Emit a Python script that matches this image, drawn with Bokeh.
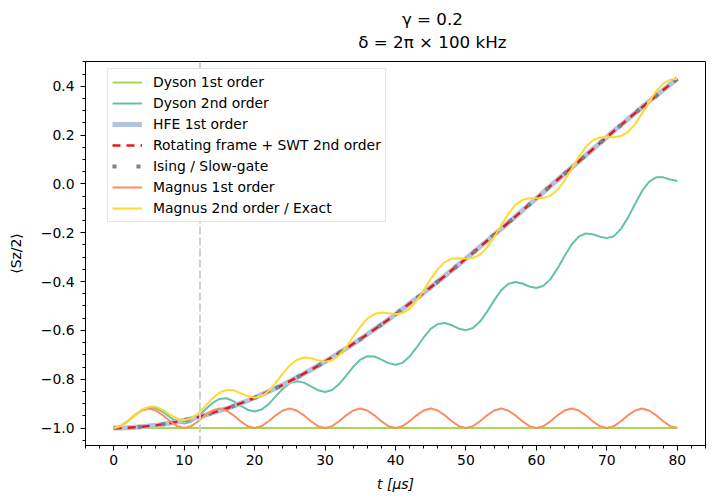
from bokeh.plotting import figure
from bokeh.layouts import column
from bokeh.models import Range1d, SingleIntervalTicker, CustomJSTickFormatter, Span
from bokeh.core.properties import value
from bokeh.embed import file_html
from bokeh.resources import INLINE

# ---- data ----
t_us = list(range(81))

dyson_1st = [-1.0] * 81

dyson_2nd = [
    -1.000, -0.992, -0.973, -0.947, -0.925, -0.915, -0.918, -0.934, -0.956, -0.974,
    -0.982, -0.974, -0.953, -0.924, -0.898, -0.881, -0.878, -0.890, -0.908, -0.925,
    -0.932, -0.924, -0.902, -0.870, -0.839, -0.816, -0.808, -0.814, -0.829, -0.845,
    -0.852, -0.844, -0.820, -0.785, -0.749, -0.720, -0.706, -0.707, -0.720, -0.734,
    -0.741, -0.733, -0.707, -0.670, -0.629, -0.594, -0.574, -0.570, -0.579, -0.593,
    -0.599, -0.590, -0.564, -0.523, -0.477, -0.436, -0.410, -0.402, -0.408, -0.420,
    -0.426, -0.417, -0.390, -0.346, -0.295, -0.248, -0.216, -0.203, -0.206, -0.216,
    -0.222, -0.214, -0.184, -0.138, -0.082, -0.029, 0.009, 0.027, 0.027, 0.018,
    0.012,
]

slow_gate = [
    -1.000, -1.000, -0.999, -0.997, -0.995, -0.992, -0.989, -0.984, -0.980, -0.974,
    -0.968, -0.962, -0.955, -0.947, -0.938, -0.929, -0.920, -0.910, -0.899, -0.888,
    -0.876, -0.863, -0.850, -0.837, -0.823, -0.808, -0.793, -0.777, -0.761, -0.745,
    -0.728, -0.710, -0.692, -0.674, -0.655, -0.636, -0.616, -0.596, -0.576, -0.555,
    -0.534, -0.512, -0.490, -0.468, -0.446, -0.423, -0.400, -0.377, -0.353, -0.330,
    -0.306, -0.282, -0.257, -0.233, -0.208, -0.184, -0.159, -0.134, -0.109, -0.084,
    -0.059, -0.034, -0.008, 0.017, 0.042, 0.067, 0.092, 0.117, 0.142, 0.167,
    0.192, 0.217, 0.241, 0.266, 0.290, 0.314, 0.338, 0.361, 0.385, 0.408,
    0.431,
]

magnus_1st = [
    -1.000, -0.992, -0.972, -0.948, -0.928, -0.920, -0.928, -0.948, -0.972, -0.992,
    -1.000, -0.992, -0.972, -0.948, -0.928, -0.920, -0.928, -0.948, -0.972, -0.992,
    -1.000, -0.992, -0.972, -0.948, -0.928, -0.920, -0.928, -0.948, -0.972, -0.992,
    -1.000, -0.992, -0.972, -0.948, -0.928, -0.920, -0.928, -0.948, -0.972, -0.992,
    -1.000, -0.992, -0.972, -0.948, -0.928, -0.920, -0.928, -0.948, -0.972, -0.992,
    -1.000, -0.992, -0.972, -0.948, -0.928, -0.920, -0.928, -0.948, -0.972, -0.992,
    -1.000, -0.992, -0.972, -0.948, -0.928, -0.920, -0.928, -0.948, -0.972, -0.992,
    -1.000, -0.992, -0.972, -0.948, -0.928, -0.920, -0.928, -0.948, -0.972, -0.992,
    -1.000,
]

magnus_2nd_exact = [
    -1.000, -0.993, -0.973, -0.948, -0.925, -0.913, -0.913, -0.926, -0.945, -0.961,
    -0.968, -0.961, -0.940, -0.910, -0.879, -0.855, -0.844, -0.845, -0.857, -0.869,
    -0.876, -0.869, -0.848, -0.815, -0.777, -0.743, -0.721, -0.711, -0.714, -0.722,
    -0.728, -0.722, -0.702, -0.668, -0.626, -0.585, -0.552, -0.533, -0.527, -0.530,
    -0.534, -0.529, -0.512, -0.479, -0.436, -0.389, -0.349, -0.320, -0.306, -0.304,
    -0.306, -0.303, -0.289, -0.260, -0.218, -0.169, -0.123, -0.087, -0.066, -0.059,
    -0.059, -0.058, -0.048, -0.024, 0.014, 0.062, 0.110, 0.151, 0.178, 0.190,
    0.192, 0.191, 0.196, 0.213, 0.245, 0.289, 0.336, 0.380, 0.411, 0.427,
    0.431,
]

marker_time = 12.25
title_lines = ["γ = 0.2", "δ = 2π × 100 kHz"]
legend_labels = [
    "Dyson 1st order",
    "Dyson 2nd order",
    "HFE 1st order",
    "Rotating frame + SWT 2nd order",
    "Ising / Slow-gate",
    "Magnus 1st order",
    "Magnus 2nd order / Exact",
]

FONT = "DejaVu Sans"
FS = "13.9px"
W = 706
TITLE_H = 53

# ---- title strip (a small figure holding the two title lines) ----
tf = figure(width=W, height=TITLE_H, output_backend="svg", toolbar_location=None,
            x_range=Range1d(0, W), y_range=Range1d(0, TITLE_H),
            x_axis_type=None, y_axis_type=None, min_border=0)
tf.outline_line_color = None
tf.xgrid.visible = False
tf.ygrid.visible = False
tf.background_fill_color = "white"
tf.border_fill_color = "white"
tf.text(x=[395, 395], y=[TITLE_H - 18, TITLE_H - 41], text=title_lines,
        text_align="center", text_baseline="middle",
        text_font=value(FONT), text_font_size=value("16.7px"), text_color="black")

# ---- main plot ----
p = figure(
    width=W, height=494 - TITLE_H,
    output_backend="svg", toolbar_location=None,
    x_range=Range1d(-4, 84), y_range=Range1d(-1.0715, 0.5015),
    min_border_left=85, min_border_right=1, min_border_top=8, min_border_bottom=49,
)
p.background_fill_color = "white"
p.border_fill_color = "white"
p.outline_line_color = "black"
p.outline_line_width = 1
p.outline_line_alpha = 1
p.xgrid.visible = False
p.ygrid.visible = False

p.xaxis.ticker = SingleIntervalTicker(interval=10, num_minor_ticks=5)
p.yaxis.ticker = SingleIntervalTicker(interval=0.2, num_minor_ticks=4)
p.yaxis.formatter = CustomJSTickFormatter(code="""
    const v = Math.round(tick * 10) / 10;
    return (v < 0 ? '\u2212' : '') + Math.abs(v).toFixed(1);
""")
for ax in (p.xaxis[0], p.yaxis[0]):
    ax.major_tick_out = 5
    ax.major_tick_in = 0
    ax.minor_tick_out = 3
    ax.minor_tick_in = 0
    ax.major_tick_line_color = "black"
    ax.minor_tick_line_color = "black"
    ax.axis_line_color = "black"
    ax.major_label_text_font = FONT
    ax.major_label_text_font_size = FS
    ax.major_label_text_color = "black"
    ax.axis_label_text_font = FONT
    ax.axis_label_text_font_size = FS
    ax.axis_label_text_color = "black"

p.xaxis.major_label_standoff = 4
p.yaxis.major_label_standoff = 6
p.xaxis.axis_label = "t [μs]"
p.xaxis.axis_label_text_font_style = "italic"
p.xaxis.axis_label_standoff = 8
p.yaxis.axis_label = "⟨Sz/2⟩"
p.yaxis.axis_label_text_font_style = "normal"
p.yaxis.axis_label_standoff = 14

# vertical marker
p.add_layout(Span(location=marker_time, dimension="height", line_color="#d0d0d0",
                  line_width=2, line_dash="8 3"))

# curves
p.line(t_us, dyson_1st, line_color="#a6d854", line_width=2, legend_label=legend_labels[0])
p.line(t_us, dyson_2nd, line_color="#66c2a5", line_width=2, line_join="round",
       legend_label=legend_labels[1])
p.line(t_us, slow_gate, line_color="#b0c4de", line_width=5, line_join="round",
       legend_label=legend_labels[2])
p.line(t_us, slow_gate, line_color="#e41a1c", line_width=2.5, line_dash="8 6",
       legend_label=legend_labels[3])
p.line(t_us, slow_gate, line_color="#808080", line_width=4, line_dash="4 20",
       legend_label=legend_labels[4])
p.line(t_us, magnus_1st, line_color="#fc8d62", line_width=2, line_join="round",
       legend_label=legend_labels[5])
p.line(t_us, magnus_2nd_exact, line_color="#ffd92f", line_width=2, line_join="round",
       legend_label=legend_labels[6])

lg = p.legend[0]
lg.location = (22, 223)
lg.label_text_font = FONT
lg.label_text_font_size = FS
lg.label_text_color = "black"
lg.glyph_width = 30
lg.glyph_height = 18
lg.label_height = 18
lg.label_standoff = 11
lg.spacing = 3
lg.padding = 4
lg.margin = 0
lg.border_line_color = "#cccccc"
lg.border_line_width = 1
lg.background_fill_alpha = 0.8

layout = column(tf, p, spacing=0)
open("out.html", "w").write(file_html(layout, INLINE))
